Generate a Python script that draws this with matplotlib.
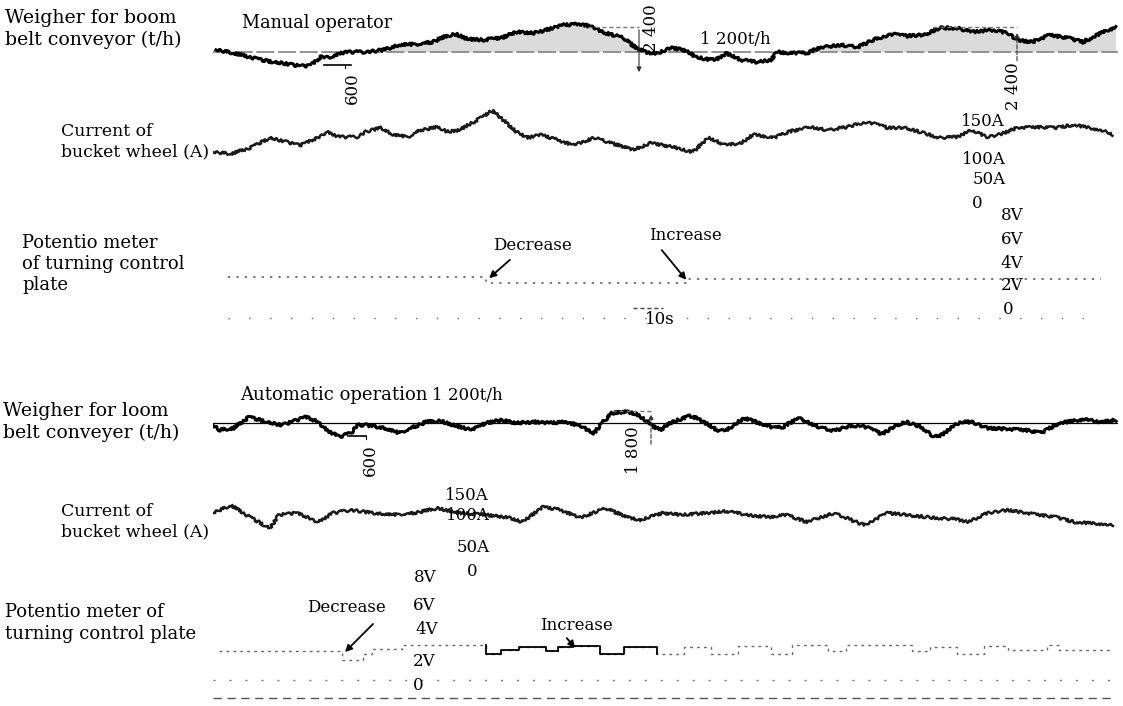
import numpy as np
import matplotlib.pyplot as plt

plt.rcParams['font.family'] = ['DejaVu Serif']

W, H = 1123, 706
PX_PER_S = 3.0          # recorder paper speed, 10 s is about 30 px
T0_PX, T1_PX = 213, 1118

# ---------------- manual operation ----------------
# weigher for boom belt conveyor, t/h
man_flow_t = [1, 7, 12, 18, 23, 29, 32, 34, 36, 40, 42, 46, 51, 57, 62, 68, 73, 78, 81, 85,
              90, 96, 101, 107, 112, 117, 123, 127, 131, 137, 141, 145, 148, 153, 157, 161,
              166, 169, 171, 176, 181, 186, 188, 192, 198, 202, 209, 215, 220, 226, 231, 237,
              242, 248, 253, 260, 265, 268, 273, 279, 285, 290, 296, 301]
man_flow_q = [1300, 1150, 960, 770, 670, 530, 530, 720, 960, 960, 1150, 1200, 1200, 1300, 1540,
              1580, 1680, 1970, 2060, 1820, 1780, 1870, 2160, 2110, 2300, 2500, 2540, 2350, 2110,
              1870, 1390, 1150, 1150, 1390, 1300, 960, 820, 910, 1150, 820, 720, 820, 1200, 1150,
              1150, 1390, 1540, 1440, 1780, 2060, 1970, 2020, 2350, 2350, 2160, 2260, 2110, 1780,
              1680, 2020, 1870, 1680, 2110, 2400]

# current of bucket wheel, A
man_cur_t = [0, 6, 12, 19, 25, 29, 35, 38, 42, 48, 51, 56, 60, 65, 69, 75, 78, 82, 87, 91, 93,
             96, 101, 105, 109, 115, 120, 127, 132, 140, 146, 153, 160, 165, 171, 176, 180, 187,
             192, 199, 205, 211, 218, 225, 231, 237, 242, 248, 253, 258, 262, 268, 275, 281, 287,
             292, 298, 300]
man_cur_a = [109, 107, 114, 128, 122, 118, 128, 136, 129, 129, 136, 141, 132, 129, 138, 142, 136,
             138, 149, 158, 164, 154, 136, 128, 132, 125, 118, 128, 122, 112, 121, 116, 109, 128,
             118, 121, 132, 128, 136, 142, 138, 142, 149, 141, 141, 134, 128, 129, 138, 129, 132,
             141, 142, 141, 145, 141, 136, 132]

# potentiometer of turning control plate, V
man_pot_t = [5, 91, 158, 296]
man_pot_v = [3.5, 3.0, 3.3, 3.3]

# ---------------- automatic operation ----------------
auto_flow_t = [0, 2, 7, 12, 18, 23, 29, 31, 35, 38, 42, 46, 48, 51, 57, 62, 66, 71, 76, 80, 85,
               88, 91, 96, 101, 107, 112, 118, 123, 127, 130, 133, 138, 142, 146, 149, 153, 159,
               162, 168, 171, 175, 177, 181, 187, 190, 195, 198, 202, 207, 211, 216, 220, 223,
               228, 231, 236, 240, 242, 246, 249, 253, 258, 265, 271, 276, 279, 282, 287, 291,
               296, 301]
auto_flow_q = [1100, 860, 960, 1490, 1250, 1100, 1390, 1490, 1250, 860, 530, 720, 1100, 1100, 960,
               720, 960, 1250, 1300, 1100, 910, 960, 1200, 1340, 1200, 1250, 1200, 1250, 1010, 720,
               1250, 1680, 1730, 1580, 1100, 860, 1250, 1540, 1390, 860, 820, 1250, 1440, 1250, 960,
               1010, 1440, 1250, 1010, 820, 1010, 1100, 860, 670, 1100, 1250, 1010, 580, 530, 960,
               1250, 1250, 960, 910, 860, 720, 960, 1200, 1300, 1390, 1250, 1340]

auto_cur_t = [0, 6, 11, 17, 19, 22, 28, 35, 40, 46, 53, 60, 67, 75, 82, 91, 99, 103, 110, 116, 122,
              131, 138, 142, 150, 156, 165, 171, 178, 185, 191, 198, 207, 211, 217, 220, 225, 231,
              240, 247, 252, 258, 265, 271, 281, 287, 300]
auto_cur_a = [105, 118, 102, 85, 80, 102, 105, 90, 105, 110, 105, 102, 105, 113, 105, 102, 97, 90,
              115, 110, 97, 113, 98, 93, 105, 102, 105, 108, 102, 98, 102, 90, 105, 97, 85, 93, 105,
              102, 97, 95, 90, 105, 110, 105, 98, 90, 85]

auto_pot_t = [2, 43, 50, 53, 63, 91, 96, 102, 111, 115, 120, 129, 137, 148, 157, 166, 175, 186,
              193, 205, 211, 233, 239, 248, 257, 265, 278, 282, 300]
auto_pot_v = [2.1, 1.5, 1.9, 2.3, 2.6, 1.9, 2.2, 2.4, 2.1, 2.4, 2.5, 1.9, 2.4, 1.9, 2.4, 1.9, 2.5,
              1.9, 2.6, 2.1, 2.6, 2.1, 2.4, 1.9, 2.5, 2.2, 2.6, 2.2, 2.2]
auto_pot_solid = (85, 148)   # part of the pen trace printed dark

flow_ref = 1200
span_t = (T1_PX - T0_PX) / PX_PER_S

fig = plt.figure(figsize=(W / 100, H / 100), dpi=100)


def strip(top, bottom, ref_val, ref_px, px_per_unit):
    ax = fig.add_axes([T0_PX / W, 1 - bottom / H, (T1_PX - T0_PX) / W, (bottom - top) / H])
    ax.set_ylim(ref_val - (bottom - ref_px) / px_per_unit, ref_val + (ref_px - top) / px_per_unit)
    ax.set_xlim(0, span_t)
    ax.axis('off')
    return ax


def pen(ax, t, v, lw=2.0, color='k'):
    ln, = ax.plot(t, v, color=color, lw=lw, solid_joinstyle='round')
    ln.set_sketch_params(1.3, 5, 4)
    return ln


# manual flow
ax1 = strip(0, 110, flow_ref, 52, 1 / 48)
t = np.array(man_flow_t)
q = np.array(man_flow_q)
ax1.fill_between(t, flow_ref, q, where=q > flow_ref, color='#c4c4c4', alpha=0.6, lw=0,
                 interpolate=True)
ax1.axhline(flow_ref, color='#8a8a8a', lw=1.3, ls=(0, (10, 2)))
pen(ax1, t, q, lw=2.2)
ax1.plot([125, 142], [2400, 2400], color='#777', lw=1, ls=(0, (3, 2)))
ax1.annotate('', xy=(142, 100), xytext=(142, 2400),
             arrowprops=dict(arrowstyle='-|>', lw=0.8, color='#333', mutation_scale=7))
ax1.plot([240, 268], [2400, 2400], color='#777', lw=1, ls=(0, (3, 2)))
ax1.annotate('', xy=(268, 2250), xytext=(268, 650),
             arrowprops=dict(arrowstyle='-|>', lw=0.8, color='#333', ls='--', mutation_scale=7))
ax1.plot([37, 46], [600, 600], color='k', lw=1.2)
ax1.plot([44, 44], [600, 420], color='k', lw=0.8)

# manual current
ax2 = strip(100, 210, 100, 159, 0.76)
pen(ax2, man_cur_t, man_cur_a, lw=1.8, color='#1a1a1a')

# manual potentiometer
ax3 = strip(200, 330, 0, 318, 11.75)
ax3.step(man_pot_t, man_pot_v, where='post', color='#555', lw=1.1, ls=(0, (1.5, 4)))
ax3.plot([5, 296], [0, 0], color='#666', lw=1, ls=(0, (1, 14)))
scale_bar_t = 140
ax3.plot([scale_bar_t, scale_bar_t + 10], [0.85, 0.85], color='#444', lw=1, ls=(0, (3, 2)))

# automatic flow
ax4 = strip(370, 480, flow_ref, 423, 1 / 48)
ax4.axhline(flow_ref, color='k', lw=0.9)
pen(ax4, auto_flow_t, auto_flow_q, lw=2.2)
ax4.plot([133, 146], [1800, 1800], color='#777', lw=1, ls=(0, (3, 2)))
ax4.annotate('', xy=(146, 1750), xytext=(146, 50),
             arrowprops=dict(arrowstyle='-|>', lw=0.8, color='#333', ls='--', mutation_scale=7))
ax4.plot([45, 51], [600, 600], color='k', lw=1.2)
ax4.plot([51, 51], [600, 420], color='k', lw=0.8)

# automatic current
ax5 = strip(470, 580, 100, 516, 0.6)
pen(ax5, auto_cur_t, auto_cur_a, lw=1.8, color='#1a1a1a')

# automatic potentiometer
ax6 = strip(570, 706, 0, 680, 13.6)
pt = np.array(auto_pot_t)
pv = np.array(auto_pot_v)
ax6.step(pt, pv, where='post', color='#666', lw=1.0, ls=(0, (2, 3)))
ts = np.repeat(pt, 2)[1:]
vs = np.repeat(pv, 2)[:-1]
dark = (ts >= auto_pot_solid[0]) & (ts <= auto_pot_solid[1])
ax6.plot(np.where(dark, ts, np.nan), np.where(dark, vs, np.nan), color='k', lw=1.3)
ax6.plot([0, 300], [0, 0], color='#777', lw=1, ls=(0, (1.5, 10)))
ax6.plot([0, 300], [-1.32, -1.32], color='#555', lw=1, ls=(0, (6, 4)))

# ---------------- texts ----------------
ov = fig.add_axes([0, 0, 1, 1])
ov.set_xlim(0, W)
ov.set_ylim(H, 0)
ov.axis('off')

fs = 12
left_labels = [
    ('Weigher for boom', 5, 18, 13.6), ('belt conveyor (t/h)', 5, 40, 13.6),
    ('Current of', 61, 132, 12.4), ('bucket wheel (A)', 61, 152, 12.4),
    ('Potentio meter', 22, 243, 13), ('of turning control', 22, 264, 13), ('plate', 22, 285, 13),
    ('Weigher for loom', 3, 411, 13.6), ('belt conveyer (t/h)', 3, 433, 13.6),
    ('Current of', 61, 511, 12.4), ('bucket wheel (A)', 61, 532, 12.4),
    ('Potentio meter of', 5, 612, 13), ('turning control plate', 5, 634, 13),
]
for s, x, y, size in left_labels:
    ov.text(x, y, s, fontsize=size, ha='left', va='center')

ov.text(242, 23, 'Manual operator', fontsize=12.7, ha='left', va='center')
ov.text(700, 40, '1 200t/h', fontsize=fs, ha='left', va='center')
ov.text(240, 395, 'Automatic operation', fontsize=13, ha='left', va='center')
ov.text(432, 395, '1 200t/h', fontsize=fs, ha='left', va='center')

for s, x, y in [('2 400', 652, 28), ('600', 352, 88), ('2 400', 1013, 86),
                ('600', 370, 460), ('1 800', 633, 450)]:
    ov.text(x, y, s, fontsize=fs, rotation=90, ha='center', va='center')

scale_labels = [
    ('150A', 983, 121), ('100A', 984, 159), ('50A', 989, 180), ('0', 977, 204),
    ('8V', 1012, 216), ('6V', 1012, 239), ('4V', 1012, 263), ('2V', 1012, 286), ('0', 1008, 310),
    ('150A', 467, 495), ('100A', 468, 516), ('50A', 473, 547), ('0', 472, 572),
    ('8V', 425, 577), ('6V', 424, 606), ('4V', 427, 630), ('2V', 424, 661), ('0', 418, 686),
]
for s, x, y in scale_labels:
    ov.text(x, y, s, fontsize=fs, ha='center', va='center')

ov.text(660, 319, '10s', fontsize=fs, ha='center', va='center')

arrow = dict(arrowstyle='-|>', lw=1.3, color='k', mutation_scale=10)
for s, tx, ty, ax_, ay_, hx, hy in [
        ('Decrease', 532, 245, 487, 280, 512, 258),
        ('Increase', 685, 236, 688, 282, 660, 248),
        ('Decrease', 346, 607, 343, 654, 375, 622),
        ('Increase', 576, 625, 577, 650, 565, 636)]:
    ov.text(tx, ty, s, fontsize=fs, ha='center', va='center')
    ov.annotate('', xy=(ax_, ay_), xytext=(hx, hy), arrowprops=arrow)

fig.savefig('out.png', dpi=100)
